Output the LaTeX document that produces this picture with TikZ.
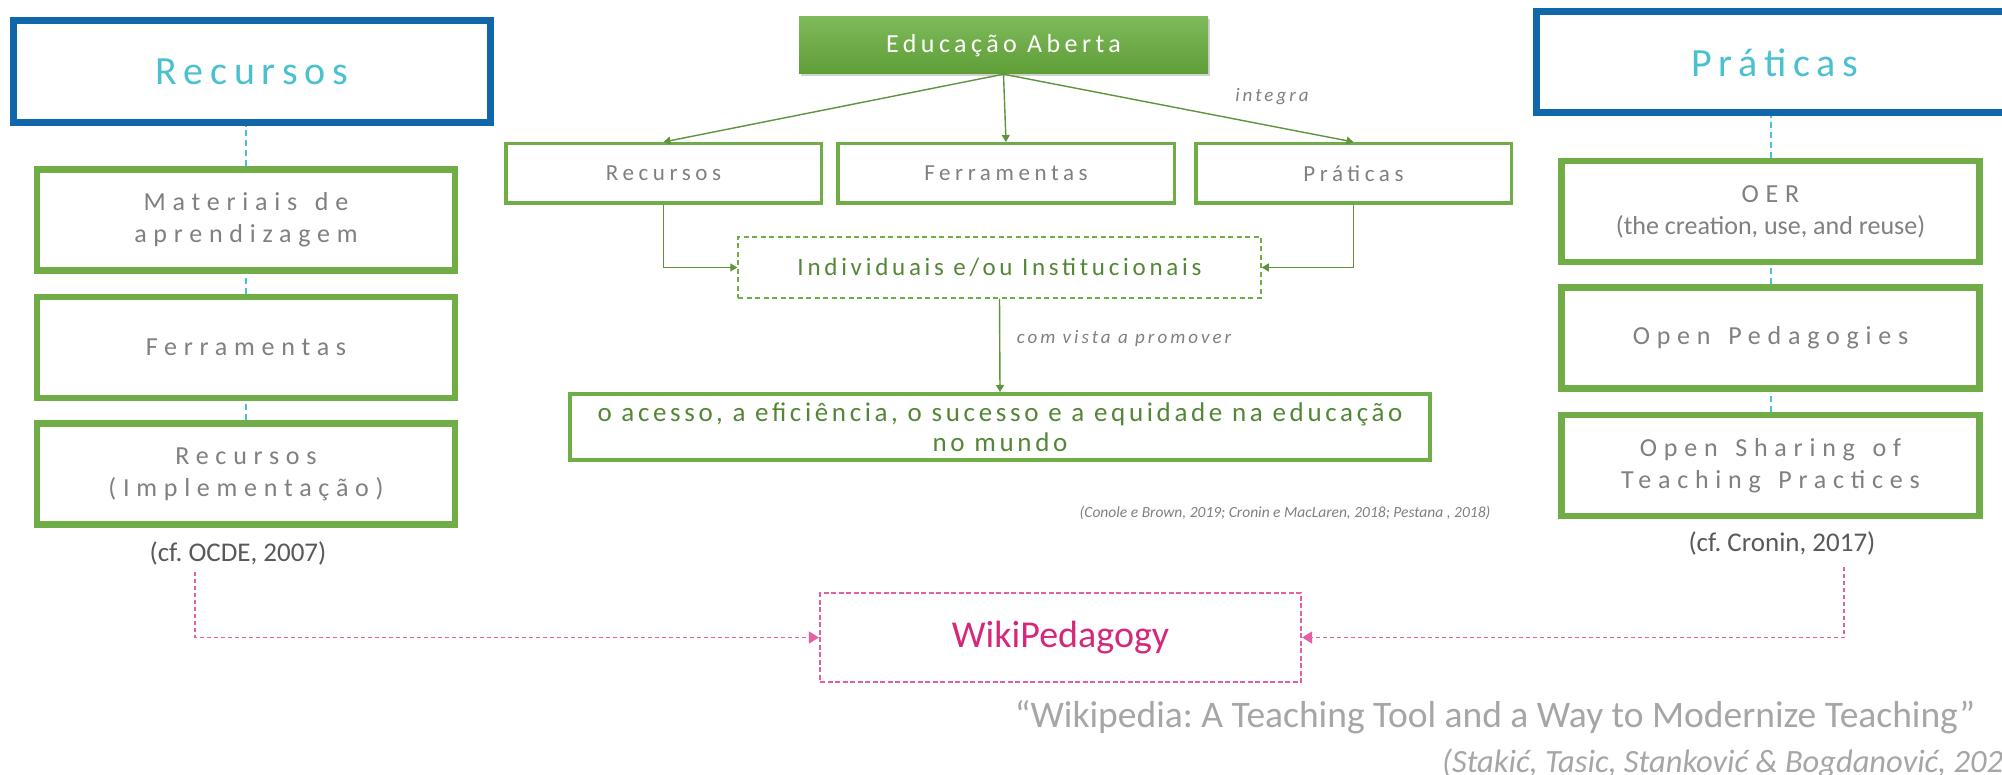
\documentclass[tikz,border=0pt]{standalone}
\usepackage{fontspec}
\setmainfont{Carlito}
\newfontfamily\headfont[LetterSpace=17]{Carlito}
\newfontfamily\boxfont[LetterSpace=26,WordSpace=1.4]{Carlito}
\newfontfamily\midfont[LetterSpace=20]{Carlito}
\newfontfamily\edufont[LetterSpace=17]{Carlito}
\newfontfamily\indfont[LetterSpace=15]{Carlito}
\newfontfamily\goalfont[LetterSpace=13.5]{Carlito}
\newfontfamily\labfont[LetterSpace=16]{Carlito}
\usetikzlibrary{arrows.meta,shadows}
\definecolor{cblue}{RGB}{16,104,170}
\definecolor{ccyan}{RGB}{75,192,208}
\definecolor{cgreen}{RGB}{112,173,71}
\definecolor{cdkgreen}{RGB}{84,135,53}
\definecolor{cgray}{RGB}{128,128,128}
\definecolor{cdkgray}{RGB}{89,89,89}
\definecolor{cltgray}{RGB}{166,166,166}
\definecolor{cedutop}{RGB}{125,186,90}
\definecolor{ceduBot}{RGB}{95,157,55}
\definecolor{cpink}{RGB}{230,95,165}
\definecolor{cmagenta}{RGB}{214,40,122}
\tikzset{
  bluebox/.style={draw=cblue, line width=7pt, inner sep=0pt, minimum width=477pt,
    text=ccyan, font=\headfont\fontsize{40}{48}\selectfont},
  sidebox/.style={draw=cgreen, line width=6.5pt, inner sep=0pt, minimum width=418pt,
    minimum height=101pt, align=center, text=cgray, font=\boxfont\fontsize{26}{32}\selectfont},
  midbox/.style={draw=cgreen, line width=3.5pt, inner sep=0pt, minimum height=59.5pt,
    text=cgray, font=\midfont\fontsize{23}{28}\selectfont},
  edubox/.style={inner sep=0pt, minimum width=409pt, minimum height=57pt,
    top color=cedutop, bottom color=ceduBot, text=white,
    drop shadow={shadow xshift=2pt, shadow yshift=-2.5pt, opacity=0.35},
    font=\edufont\fontsize{26}{31}\selectfont},
  dashbox/.style={draw=cgreen, line width=1.5pt, dash pattern=on 5pt off 3.5pt, inner sep=0pt,
    minimum width=523pt, minimum height=61pt, text=cdkgreen, font=\indfont\fontsize{25}{30}\selectfont},
  goalbox/.style={draw=cgreen, line width=4pt, inner sep=0pt, minimum width=860pt,
    minimum height=66pt, align=center, text=cdkgreen, font=\goalfont\fontsize{27}{30}\selectfont},
  wikibox/.style={draw=cpink, line width=2.2pt, dash pattern=on 5pt off 2.5pt, inner sep=0pt,
    minimum width=481pt, minimum height=89pt, text=cmagenta, font=\fontsize{38}{44}\selectfont},
  cyandash/.style={draw=ccyan, line width=2pt, dash pattern=on 6pt off 4pt},
  garrow/.style={draw=cgreen!85!black, line width=1.4pt, -{Triangle[length=7pt,width=8pt]}},
  parrow/.style={draw=cpink, line width=1.5pt, dash pattern=on 4pt off 3pt,
    -{Triangle[length=10pt,width=12pt]}},
  edgelabel/.style={text=cgray, font=\labfont\itshape\fontsize{19}{23}\selectfont, inner sep=0pt},
  citation/.style={text=cdkgray, font=\fontsize{27}{32}\selectfont, inner sep=0pt}
}
\begin{document}
\frenchspacing
\begin{tikzpicture}[x=1pt,y=-1pt]
\useasboundingbox (0,0) rectangle (2002,775);
\clip (0,0) rectangle (2002,775);
\fill[white] (0,0) rectangle (2002,775);

% left column
\node[bluebox, minimum height=102pt] (lhead) at (252,71.5) {Recursos};
\node[sidebox] (l1) at (246,220) {Materiais de\\aprendizagem};
\node[sidebox] (l2) at (246,347.5) {Ferramentas};
\node[sidebox] (l3) at (246,474) {Recursos\\(Implementação)};
\node[citation] (lcit) at (238,553) {(cf. OCDE, 2007)};
\draw[cyandash] (l1.north) -- (l1.north |- lhead.south);
\draw[cyandash] (l2.north) -- (l1.south);
\draw[cyandash] (l3.north) -- (l2.south);

% right column
\node[bluebox, minimum height=101pt] (rhead) at (1775,62.5) {Práticas};
\node[sidebox] (r1) at (1770.5,211.5) {OER\\{\normalfont\fontsize{26}{31}\selectfont (the creation, use, and reuse)}};
\node[sidebox] (r2) at (1770.5,338) {Open Pedagogies};
\node[sidebox] (r3) at (1770.5,465.5) {Open Sharing of\\Teaching Practices};
\node[citation] (rcit) at (1782,543) {(cf. Cronin, 2017)};
\draw[cyandash] (r1.north) -- (r1.north |- rhead.south);
\draw[cyandash] (r2.north) -- (r1.south);
\draw[cyandash] (r3.north) -- (r2.south);

% centre
\node[edubox] (edu) at (1003.5,45.5) {Educação Aberta};
\node[midbox, minimum width=315.5pt] (mrec) at (663.5,173.5) {Recursos};
\node[midbox, minimum width=336.5pt] (mfer) at (1006,173.5) {Ferramentas};
\node[midbox, minimum width=315.5pt] (mpra) at (1353.5,173.5) {Práticas};
\draw[garrow] (edu.south) -- (mrec.north);
\draw[garrow] (edu.south) -- (mfer.north);
\draw[garrow] (edu.south) -- (mpra.north);
\node[edgelabel] (integ) at (1272,97) {integra};

\node[dashbox] (ind) at (999.5,267.5) {Individuais e/ou Institucionais};
\draw[garrow] (mrec.south) |- (ind.west);
\draw[garrow] (mpra.south) |- (ind.east);

\node[goalbox] (goal) at (1000,427) {o acesso, a eficiência, o sucesso e a equidade na educação\\no mundo};
\draw[garrow] (ind.south) -- (goal.north);
\node[edgelabel] (promo) at (1124,338) {com vista a promover};

\node[text=cgray, font=\itshape\fontsize{15.5}{18}\selectfont, inner sep=0pt] (cit) at (1285,513)
  {(Conole e Brown, 2019; Cronin e MacLaren, 2018; Pestana , 2018)};

% WikiPedagogy
\node[wikibox] (wiki) at (1060.5,637.5) {WikiPedagogy};
\coordinate (lp) at (195,572);
\coordinate (rp) at (1844,567);
\draw[parrow] (lp) |- (wiki.west);
\draw[parrow] (rp) |- (wiki.east);

\node[text=cltgray, font=\fontsize{37.5}{44}\selectfont, inner sep=0pt] (quote) at (1495,717)
  {“Wikipedia: A Teaching Tool and a Way to Modernize Teaching”};
\node[text=cltgray, font=\itshape\fontsize{32.5}{38}\selectfont, inner sep=0pt, anchor=west] (auth) at (1442,763)
  {(Stakić, Tasic, Stanković \& Bogdanović, 2021)};
\end{tikzpicture}
\end{document}
